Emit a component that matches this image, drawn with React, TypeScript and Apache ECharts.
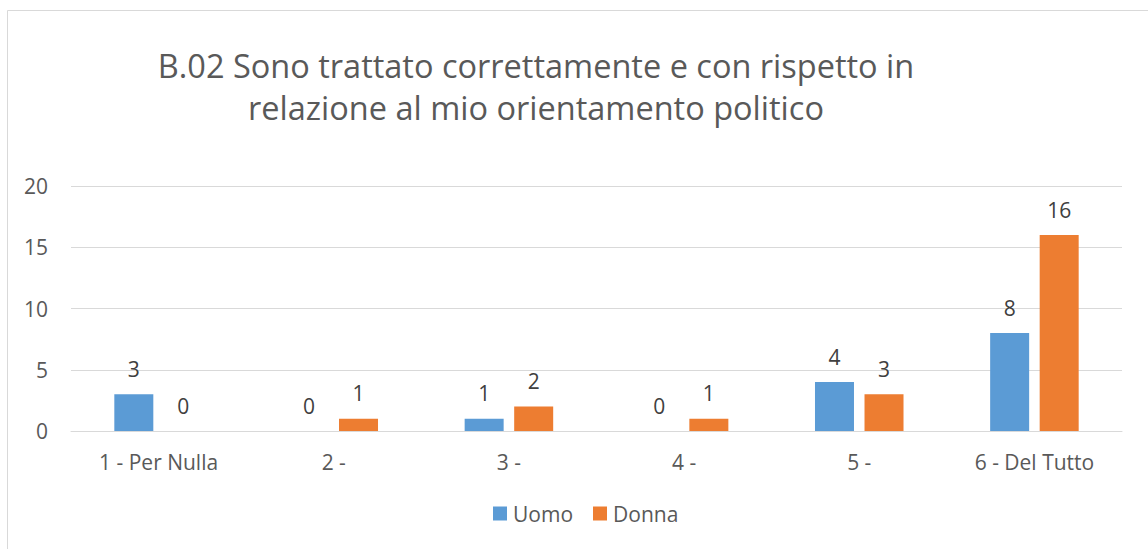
import React, { useEffect, useRef } from "react";
import * as echarts from "echarts";

const titleLines = [
  "B.02 Sono trattato correttamente e con rispetto in",
  "relazione al mio orientamento politico",
];
const categories = ["1 - Per Nulla", "2 -", "3 -", "4 -", "5 -", "6 - Del Tutto"];
const uomo = [3, 0, 1, 0, 4, 8];
const donna = [0, 1, 2, 1, 3, 16];
const seriesNames = ["Uomo", "Donna"];

const FONT = "'Open Sans', 'Noto Sans', sans-serif";

export default function App() {
  const ref = useRef<HTMLDivElement>(null);
  useEffect(() => {
    if (!ref.current) return;
    const chart = echarts.init(ref.current, undefined, { renderer: "svg" });
    const labelCfg = {
      show: true,
      position: "top",
      distance: 15,
      color: "#404040",
      fontSize: 21,
      fontFamily: FONT,
    };
    chart.setOption({
      animation: false,
      backgroundColor: "#ffffff",
      textStyle: { fontFamily: FONT },
      title: {
        text: titleLines.join("\n"),
        left: 531,
        top: 39,
        textAlign: "center",
        textStyle: {
          fontFamily: FONT,
          fontSize: 32.5,
          fontWeight: "normal",
          color: "#595959",
          lineHeight: 42,
        },
      },
      graphic: [
        {
          type: "rect",
          shape: { x: 7.5, y: 10.5, width: 1200, height: 600 },
          style: { fill: "none", stroke: "#d9d9d9", lineWidth: 1 },
          silent: true,
          z: -1,
        },
      ],
      legend: {
        data: seriesNames,
        bottom: 20,
        left: 488,
        itemWidth: 14,
        itemHeight: 14,
        itemGap: 20,
        icon: "rect",
        textStyle: { fontFamily: FONT, fontSize: 21, color: "#595959", padding: [0, 0, 0, 1] },
      },
      grid: { left: 71, right: 26, top: 186, bottom: 118 },
      xAxis: {
        type: "category",
        data: categories,
        axisLine: { lineStyle: { color: "#d9d9d9", width: 1 } },
        axisTick: { show: false },
        axisLabel: { color: "#595959", fontSize: 21, fontFamily: FONT, margin: 20 },
      },
      yAxis: {
        type: "value",
        min: 0,
        max: 20,
        interval: 5,
        axisLine: { show: false },
        axisTick: { show: false },
        splitLine: { lineStyle: { color: "#d9d9d9", width: 1 } },
        axisLabel: { color: "#595959", fontSize: 21, fontFamily: FONT, margin: 23 },
      },
      series: [
        {
          name: seriesNames[0],
          type: "bar",
          data: uomo,
          barWidth: 39,
          barGap: "27%",
          itemStyle: { color: "#5b9bd5" },
          label: labelCfg,
        },
        {
          name: seriesNames[1],
          type: "bar",
          data: donna,
          barWidth: 39,
          barGap: "27%",
          itemStyle: { color: "#ed7d31" },
          label: labelCfg,
        },
      ],
    });
    return () => chart.dispose();
  }, []);
  return (
    <div
      ref={ref}
      style={{ position: "fixed", left: 0, top: 0, width: 1148, height: 549 }}
    />
  );
}
